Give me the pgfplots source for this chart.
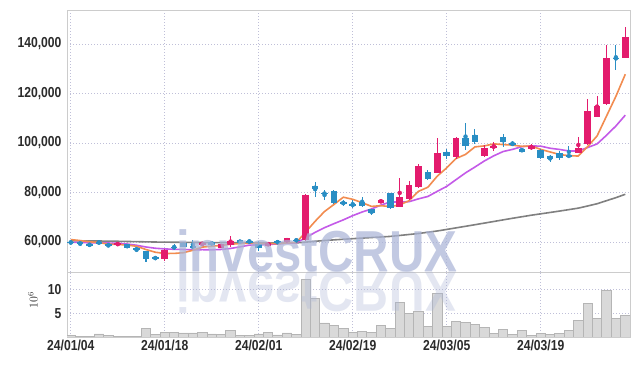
\documentclass[border=0pt]{standalone}
\usepackage{fontspec}
\usepackage{pgfplots}
\pgfplotsset{compat=1.18}
\usepackage{pgfplotstable}
\newfontfamily\tickfont[FakeStretch=0.84]{Liberation Sans}
\newfontfamily\wmfont{Liberation Sans}
\definecolor{cred}{HTML}{E31B6D}
\definecolor{cblue}{HTML}{298EC4}
\definecolor{corange}{HTML}{F28C50}
\definecolor{cpurple}{HTML}{C45AE8}
\definecolor{cgray}{HTML}{808080}
\definecolor{gridc}{HTML}{BFBFD8}
\definecolor{axisc}{HTML}{CCCCCC}
\definecolor{volfill}{HTML}{D9D9D9}
\definecolor{voldraw}{HTML}{B5B5B5}
\definecolor{wmc}{HTML}{ABB5D7}
\definecolor{tickc}{HTML}{2B2B2B}

\pgfplotstableread{
i o h l c
5 59000 59500 58900 59300
10 53000 57300 52500 56800
14 59000 59800 58900 59300
16 57700 59400 57500 59100
17 58800 62400 58000 60500
21 58400 60200 58200 59700
23 60100 61800 59500 61500
25 60800 79200 60500 79000
33 75900 77300 75600 77000
35 74300 85700 74000 78100
36 77300 84600 77000 83000
37 82300 91600 82000 90700
39 88000 101900 87800 96100
41 94500 102300 93500 101900
44 94700 99200 94300 98100
45 98100 100500 96900 98800
49 97500 99400 97300 98900
54 96100 102500 95900 98100
55 99500 117700 99300 112900
56 110600 119100 110300 115000
57 115600 139600 115300 134200
59 134400 146700 134200 142700
}\redtab

\pgfplotstableread{
i o h l c
0 60200 60400 59200 59500
1 59900 60100 58500 59100
2 59000 59200 58500 58800
3 59900 60400 59300 59600
4 59100 59200 58000 58500
6 59200 59300 57400 57500
7 57700 57800 55900 56600
8 56400 56500 51800 53000
9 54100 54300 52700 53000
11 58000 59100 56900 57600
12 59700 59800 58000 58100
13 58200 60800 57000 57900
15 60200 60400 58500 58700
18 60800 61000 59300 59500
19 60400 60600 59900 60000
20 59100 60600 56400 57700
22 60400 60600 59300 59500
24 60900 61000 60300 60500
26 82600 84400 78300 81300
27 79900 81000 77000 79300
28 80700 80900 75300 75600
29 76300 76800 74600 75400
30 75200 77000 73600 74700
31 76300 78300 74200 74500
32 73200 73300 71000 71800
34 79700 79900 73300 73600
38 88400 89100 85000 85300
40 96500 97500 93700 94700
42 101900 108200 97000 98900
43 103200 105500 99500 100500
46 102500 103600 98500 100500
47 99900 100600 99000 99300
48 97600 98100 96200 96500
50 97200 97400 93500 93800
51 94700 95000 92500 93400
52 95800 96800 93000 94100
53 95300 98800 94000 94200
58 134300 139600 129600 134000
}\bluetab

\pgfplotstableread{
i v
0 0.3
1 0.15
2 0.1
3 0.65
4 0.3
5 0.1
6 0.2
7 0.2
8 1.9
9 0.5
10 1.05
11 1.05
12 0.85
13 0.85
14 1.05
15 0.65
16 0.5
17 1.4
18 0.3
19 0.3
20 0.65
21 1.05
22 0.45
23 0.85
24 0.5
25 12.3
26 8.1
27 3.0
28 2.5
29 1.9
30 1.0
31 1.2
32 1.0
33 2.5
34 1.9
35 7.4
36 5.0
37 5.5
38 2.3
39 9.2
40 2.3
41 3.3
42 3.1
43 2.6
44 2.1
45 0.7
46 1.6
47 0.6
48 1.4
49 0.35
50 0.8
51 0.6
52 0.8
53 1.4
54 3.5
55 7.2
56 4.0
57 9.9
58 4.0
59 4.6
}\voltab

\pgfplotsset{
  candlebase/.style={
    xmin=-0.4, xmax=59.5,
    scale only axis, width=563bp,
    axis line style={draw=axisc, line width=0.8bp},
    major tick length=0pt,
    grid=major,
    major grid style={dash pattern=on 0.8bp off 2.2bp, draw=gridc, line width=0.8bp},
    xtick={0,10,20,30,40,50},
    ticklabel style={font=\tickfont\bfseries\fontsize{14.5}{15}\selectfont, text=tickc},
    /pgf/number format/assume math mode=true,
    clip=true,
  },
  wick/.style={only marks, mark=none, forget plot,
    error bars/.cd, y dir=both, y explicit, error mark=none,
    error bar style={line width=1.1bp, solid}},
  body/.style={only marks, mark=none, forget plot,
    error bars/.cd, y dir=both, y explicit, error mark=none,
    error bar style={line width=6.6bp, solid}},
}

\begin{document}
\begin{tikzpicture}
\path[use as bounding box] (0,0) rectangle (639bp,366bp);
\fill[white] (0,0) rectangle (639bp,366bp);

% price panel
\begin{axis}[candlebase,
  at={(67bp,94bp)}, anchor=south west,
  height=262bp,
  ymin=47900, ymax=153700,
  ytick={60000,80000,100000,120000,140000},
  xticklabels={},
  scaled y ticks=false,
  yticklabel style={/pgf/number format/fixed, /pgf/number format/1000 sep={,}, xshift=-2bp},
]
\addplot[cgray, line width=1.6bp, line join=round] coordinates {
(0,60480)(4,60380)(9,60000)(14,59790)(19,59710)(24,59650)(25,59960)(26,60310)(27,60620)(28,60870)(29,61120)(31,61590)(34,62270)(37,63440)(39,64470)(42,66350)(44,67640)(47,69600)(49,70830)(52,72500)(54,73690)(55,74560)(56,75470)(57,76700)(58,77920)(59,79290)};
\addplot[cpurple, line width=1.6bp, line join=round] coordinates {
(0,59900)(1,59800)(2,59700)(3,59700)(4,59600)(5,59500)(6,59200)(7,58700)(8,58000)(9,57490)(10,57220)(11,57070)(12,57000)(13,56830)(14,56910)(15,56850)(16,57010)(17,57400)(18,58050)(19,58750)(20,58840)(21,59050)(22,59190)(23,59550)(24,59670)(25,61700)(26,63920)(27,65800)(28,67410)(29,68950)(30,70650)(31,72130)(32,73360)(33,74910)(34,76220)(35,76130)(36,76300)(37,77440)(38,78410)(39,80480)(40,82480)(41,85220)(42,87930)(43,90280)(44,92730)(45,94800)(46,96550)(47,97410)(48,98530)(49,98810)(50,98720)(51,97870)(52,97390)(53,96760)(54,96760)(55,98170)(56,99620)(57,103110)(58,106860)(59,111240)};
\addplot[corange, line width=1.6bp, line join=round] coordinates {
(0,61000)(1,60600)(2,60100)(3,59800)(4,59100)(5,59060)(6,58740)(7,58300)(8,56980)(9,55880)(10,55380)(11,55400)(12,55700)(13,56680)(14,57940)(15,58320)(16,58620)(17,59100)(18,59400)(19,59550)(20,59350)(21,59480)(22,59280)(23,59680)(24,59800)(25,64060)(26,68380)(27,72340)(28,75160)(29,78110)(30,77250)(31,75890)(32,74390)(33,74670)(34,74320)(35,75000)(36,76700)(37,80480)(38,82140)(39,86640)(40,89960)(41,93740)(42,95380)(43,98420)(44,98820)(45,99640)(46,99360)(47,99140)(48,98640)(49,98800)(50,97400)(51,96380)(52,95340)(53,94880)(54,94720)(55,98540)(56,102860)(57,110860)(58,118840)(59,127760)};
% wicks
\addplot[cred, wick] table[x=i, y expr={(\thisrow{h}+\thisrow{l})/2}, y error expr={(\thisrow{h}-\thisrow{l})/2}] {\redtab};
\addplot[cblue, wick] table[x=i, y expr={(\thisrow{h}+\thisrow{l})/2}, y error expr={(\thisrow{h}-\thisrow{l})/2}] {\bluetab};
% bodies
\addplot[cred, body] table[x=i, y expr={(\thisrow{o}+\thisrow{c})/2}, y error expr={max(abs(\thisrow{c}-\thisrow{o})/2,300)}] {\redtab};
\addplot[cblue, body] table[x=i, y expr={(\thisrow{o}+\thisrow{c})/2}, y error expr={max(abs(\thisrow{c}-\thisrow{o})/2,300)}] {\bluetab};
\end{axis}

% volume panel
\begin{axis}[candlebase,
  at={(67bp,29bp)}, anchor=south west,
  height=65bp,
  ymin=0, ymax=13.8,
  ytick={5,10},
  yticklabel style={xshift=-2bp},
  xticklabels={24/01/04,24/01/18,24/02/01,24/02/19,24/03/05,24/03/19},
]
\addplot[ybar, bar width=1, fill=volfill, draw=voldraw, line width=0.7bp] table[x=i, y=v] {\voltab};
\end{axis}

\node[rotate=90, text=tickc, font=\fontsize{12}{12}\selectfont] at (33bp,66bp) {$10^{6}$};

% watermark
\node[anchor=base west, inner sep=0, xscale=0.85, text=wmc, opacity=0.72,
  font=\wmfont\bfseries\fontsize{58}{58}\selectfont] at (176bp,94bp) {investCRUX};
\node[anchor=base west, inner sep=0, xscale=0.85, yscale=-1, text=wmc, opacity=0.33,
  font=\wmfont\bfseries\fontsize{58}{58}\selectfont] at (176bp,94bp) {investCRUX};
\end{tikzpicture}
\end{document}
